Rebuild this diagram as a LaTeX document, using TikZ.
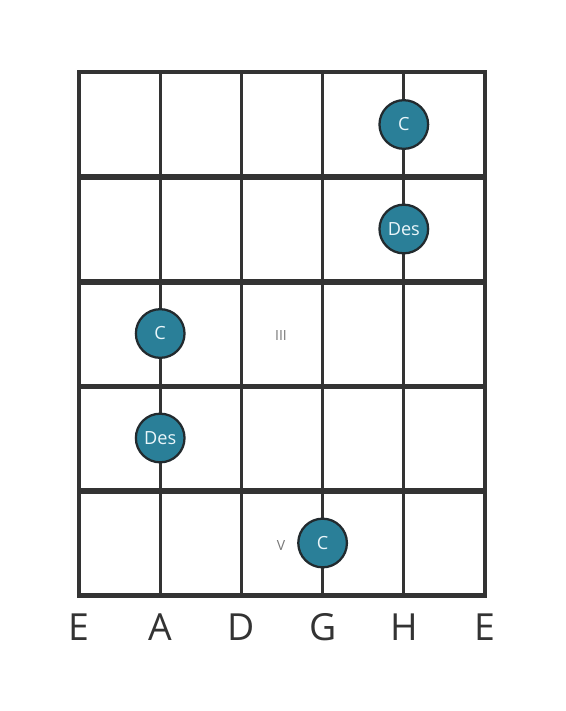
\documentclass[tikz,border=0pt]{standalone}
\usepackage{fontspec}
\setmainfont{Open Sans}
\definecolor{gridc}{HTML}{333333}
\definecolor{dotc}{HTML}{2A7F98}
\definecolor{dotline}{HTML}{222A2E}
\definecolor{dottext}{HTML}{EAF6FA}
\definecolor{numc}{HTML}{777777}
\begin{document}
\begin{tikzpicture}[x=0.75pt,y=-0.75pt,
  fretline/.style={gridc,line width=3.9pt},
  strline/.style={gridc,line width=2.2pt},
  border/.style={gridc,line width=3.6pt},
  dot/.style={circle,draw=dotline,line width=1.7pt,fill=dotc,minimum size=36.5pt,inner sep=0pt,text=dottext,font=\fontsize{13.6pt}{15pt}\selectfont},
  strlabel/.style={text=gridc,font=\fontsize{28pt}{30pt}\selectfont,inner sep=0pt},
  numlabel/.style={text=numc,font=\fontsize{10.5pt}{12pt}\selectfont,inner sep=0pt}]
\useasboundingbox (0,0) rectangle (566,711);
% strings
\foreach \x in {160.2,241.4,322.6,403.8} \draw[strline] (\x,72) -- (\x,595);
% frets
\foreach \y in {177,282,386.5,491} \draw[fretline] (79,\y) -- (485,\y);
\draw[border] (79,72) rectangle (485,595.5);
% dots
\node[dot] (c1) at (403.8,124.5) {C};
\node[dot] (d1) at (403.8,229) {Des};
\node[dot] (c2) at (160.2,333.5) {C};
\node[dot] (d2) at (160.2,438) {Des};
\node[dot] (c3) at (322.6,543) {C};
% fret numbers
\node[numlabel] (n3) at (281,335) {III};
\node[numlabel] (n5) at (281,545) {V};
% string names
\node[strlabel] (s1) at (79,627) {E};
\node[strlabel] (s2) at (160.2,627) {A};
\node[strlabel] (s3) at (241.4,627) {D};
\node[strlabel] (s4) at (322.6,627) {G};
\node[strlabel] (s5) at (403.8,627) {H};
\node[strlabel] (s6) at (485,627) {E};
\end{tikzpicture}
\end{document}
